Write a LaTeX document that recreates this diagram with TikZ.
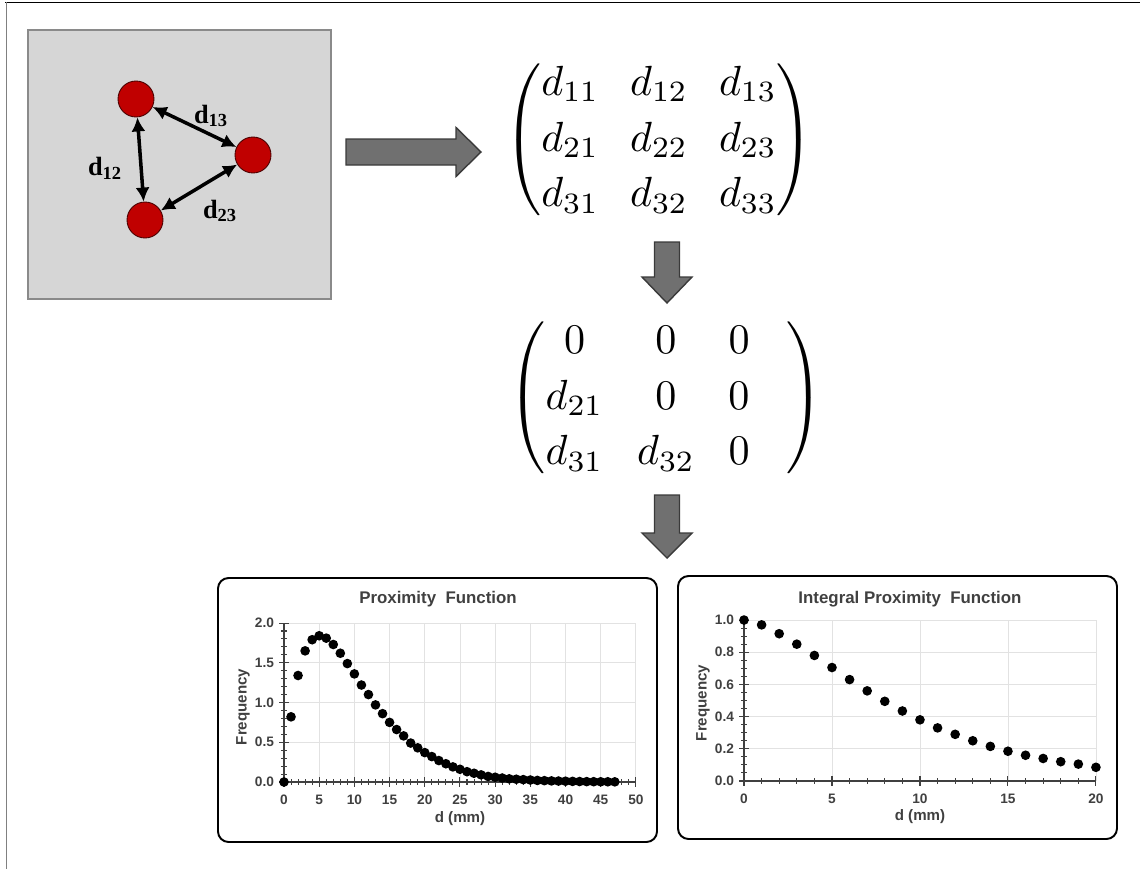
\documentclass[tikz,border=0pt]{standalone}
\usepackage{amsmath}
\usepackage{graphicx}
\usepackage{fontspec}
\newfontfamily\chartfont{Liberation Sans}
\newfontfamily\serifb{Liberation Serif}
\usetikzlibrary{arrows.meta}
\definecolor{panelfill}{HTML}{D6D6D6}
\definecolor{paneldraw}{HTML}{8A8A8A}
\definecolor{ptred}{HTML}{C00000}
\definecolor{ptdraw}{HTML}{4A0000}
\definecolor{blkfill}{HTML}{707070}
\definecolor{blkdraw}{HTML}{3A3A3A}
\definecolor{txtgray}{HTML}{404040}
\definecolor{gridgray}{HTML}{E2E2E2}
\tikzset{
  panel/.style={draw=paneldraw, fill=panelfill, line width=0.9pt, inner sep=0},
  reddot/.style={circle, fill=ptred, draw=ptdraw, line width=0.5pt, minimum size=0.72cm, inner sep=0},
  dbl/.style={line width=2pt, {Latex[length=8pt,width=8pt]}-{Latex[length=8pt,width=8pt]}},
  dlab/.style={font=\serifb\bfseries\fontsize{15}{17}\selectfont, inner sep=0},
  blockarrow/.style={fill=blkfill, draw=blkdraw, line width=0.8pt, line join=miter},
  chartbox/.style={draw=black, line width=1.1pt, rounded corners=6pt},
  grid line/.style={draw=gridgray, line width=0.5pt},
  axisline/.style={draw=txtgray, line width=0.9pt},
  tickmark/.style={draw=txtgray, line width=0.6pt},
  ticklab/.style={font=\chartfont\bfseries\fontsize{7.8}{9}\selectfont, text=txtgray, inner sep=0},
  axtitle/.style={font=\chartfont\bfseries\fontsize{8.6}{10}\selectfont, text=txtgray, inner sep=0},
  charttitle/.style={font=\chartfont\bfseries\fontsize{9.6}{11}\selectfont, text=txtgray, inner sep=0},
  datapt/.style={fill=black}
}
\begin{document}
\begin{tikzpicture}[x=0.02cm, y=-0.02cm]
\useasboundingbox (0,0) rectangle (1140,869);
% frame
\draw[line width=1pt, black] (5,2.5) -- (1140,2.5);
\draw[line width=0.9pt, gray] (6.5,2) -- (6.5,869);

% left panel
\node[panel, minimum width=6.06cm, minimum height=5.38cm] (panel) at (179.5,164.5) {};
\node[reddot] (c1) at (136,99) {};
\node[reddot] (c2) at (253,155) {};
\node[reddot] (c3) at (145,220) {};
\draw[dbl] (c1) -- (c3);
\draw[dbl] (c1) -- (c2);
\draw[dbl] (c3) -- (c2);
\node[dlab] (l12) at (105,168) {d\textsubscript{12}};
\node[dlab] (l13) at (211,116) {d\textsubscript{13}};
\node[dlab] (l23) at (220,211) {d\textsubscript{23}};

% block arrows
\draw[blockarrow] (346,139) -- (456,139) -- (456,127.5) -- (481,152) -- (456,176.5) -- (456,165) -- (346,165) -- cycle;
\draw[blockarrow] (654.5,242) -- (679.5,242) -- (679.5,277) -- (692,277) -- (667,303) -- (642,277) -- (654.5,277) -- cycle;
\draw[blockarrow] (654.5,495) -- (679.5,495) -- (679.5,533) -- (692,533) -- (667,558) -- (642,533) -- (654.5,533) -- cycle;

% matrices
\node[inner sep=0] (m1) at (659,140) {\scalebox{2.4}{\renewcommand{\arraystretch}{1.1}\setlength{\arraycolsep}{3.7pt}$\begin{pmatrix} d_{11} & d_{12} & d_{13}\\ d_{21} & d_{22} & d_{23}\\ d_{31} & d_{32} & d_{33}\end{pmatrix}$}};
\node[inner sep=0] (m2) at (666,398) {\scalebox{2.4}{\renewcommand{\arraystretch}{1.1}\setlength{\arraycolsep}{4pt}$\left(\begin{matrix} 0 & 0 & 0\\ d_{21} & 0 & 0\\ d_{31} & d_{32} & 0\end{matrix}\hspace{8.7pt}\right)$}};

% chart 1
\draw[chartbox] (218,578) rectangle (657,842);
\node[charttitle] (t1) at (438,599) {Proximity\ \ Function};
\node[axtitle, rotate=90] (f1) at (243,707) {Frequency};
\node[axtitle] (x1) at (460,819) {d (mm)};
\begin{scope}[shift={(284,782)}, x=0.1408cm, y=1.59cm]
  \foreach \i in {5,10,...,50} \draw[grid line] (\i,0) -- (\i,2);
  \foreach \j in {0.5,1,1.5,2} \draw[grid line] (0,\j) -- (50,\j);
  \draw[axisline] (0,0) -- (50,0);
  \draw[axisline] (0,0) -- (0,2);
  \foreach \i in {0,...,50} \draw[tickmark] (\i,0) ++(0,-1.6pt) -- ++(0,3.2pt);
  \foreach \i in {0,5,...,50} \draw[tickmark] (\i,0) ++(0,-2.8pt) -- ++(0,5.6pt);
  \foreach \k in {0,...,20} \draw[tickmark] (0,\k/10) ++(-1.6pt,0) -- ++(3.2pt,0);
  \foreach \k in {0,5,...,20} \draw[tickmark] (0,\k/10) ++(-2.8pt,0) -- ++(5.6pt,0);
  \foreach \i in {0,5,...,50} \node[ticklab] (xa\i) at (\i,0) [yshift=-10pt] {\i};
  \foreach \v/\t in {0/0.0,0.5/0.5,1/1.0,1.5/1.5,2/2.0} \node[ticklab, anchor=east] (ya\t) at (0,\v) [xshift=-5.5pt] {\t};
  \foreach \x/\y in {0/0,1/0.82,2/1.34,3/1.65,4/1.79,5/1.84,6/1.81,7/1.73,8/1.62,9/1.49,10/1.36,11/1.22,12/1.10,13/0.97,14/0.86,15/0.75,16/0.66,17/0.58,18/0.49,19/0.43,20/0.37,21/0.32,22/0.27,23/0.23,24/0.19,25/0.16,26/0.13,27/0.11,28/0.09,29/0.07,30/0.06,31/0.05,32/0.04,33/0.035,34/0.03,35/0.025,36/0.02,37/0.017,38/0.014,39/0.012,40/0.01,41/0.008,42/0.006,43/0.005,44/0.004,45/0.003,46/0.003,47/0.002}
    \fill[datapt] (\x,\y) circle[radius=2.75pt];
\end{scope}

% chart 2
\draw[chartbox] (678,576) rectangle (1117,839);
\node[charttitle] (t2) at (910,599) {Integral Proximity\ \ Function};
\node[axtitle, rotate=90] (f2) at (703,703) {Frequency};
\node[axtitle] (x2) at (920,817) {d (mm)};
\begin{scope}[shift={(744,781)}, x=0.352cm, y=3.22cm]
  \foreach \i in {5,10,15,20} \draw[grid line] (\i,0) -- (\i,1);
  \foreach \j in {0.2,0.4,0.6,0.8,1} \draw[grid line] (0,\j) -- (20,\j);
  \draw[axisline] (0,0) -- (20,0);
  \draw[axisline] (0,0) -- (0,1);
  \foreach \i in {0,...,20} \draw[tickmark] (\i,0) ++(0,-1.6pt) -- ++(0,3.2pt);
  \foreach \i in {0,5,...,20} \draw[tickmark] (\i,0) ++(0,-2.8pt) -- ++(0,5.6pt);
  \foreach \k in {0,...,20} \draw[tickmark] (0,\k/20) ++(-1.6pt,0) -- ++(3.2pt,0);
  \foreach \k in {0,4,...,20} \draw[tickmark] (0,\k/20) ++(-2.8pt,0) -- ++(5.6pt,0);
  \foreach \i in {0,5,...,20} \node[ticklab] (xb\i) at (\i,0) [yshift=-10pt] {\i};
  \foreach \v/\t in {0/0.0,0.2/0.2,0.4/0.4,0.6/0.6,0.8/0.8,1/1.0} \node[ticklab, anchor=east] (yb\t) at (0,\v) [xshift=-5.5pt] {\t};
  \foreach \x/\y in {0/1.0,1/0.97,2/0.915,3/0.85,4/0.78,5/0.705,6/0.63,7/0.56,8/0.495,9/0.435,10/0.38,11/0.33,12/0.29,13/0.25,14/0.215,15/0.185,16/0.16,17/0.14,18/0.12,19/0.105,20/0.085}
    \fill[datapt] (\x,\y) circle[radius=2.75pt];
\end{scope}
\end{tikzpicture}
\end{document}
